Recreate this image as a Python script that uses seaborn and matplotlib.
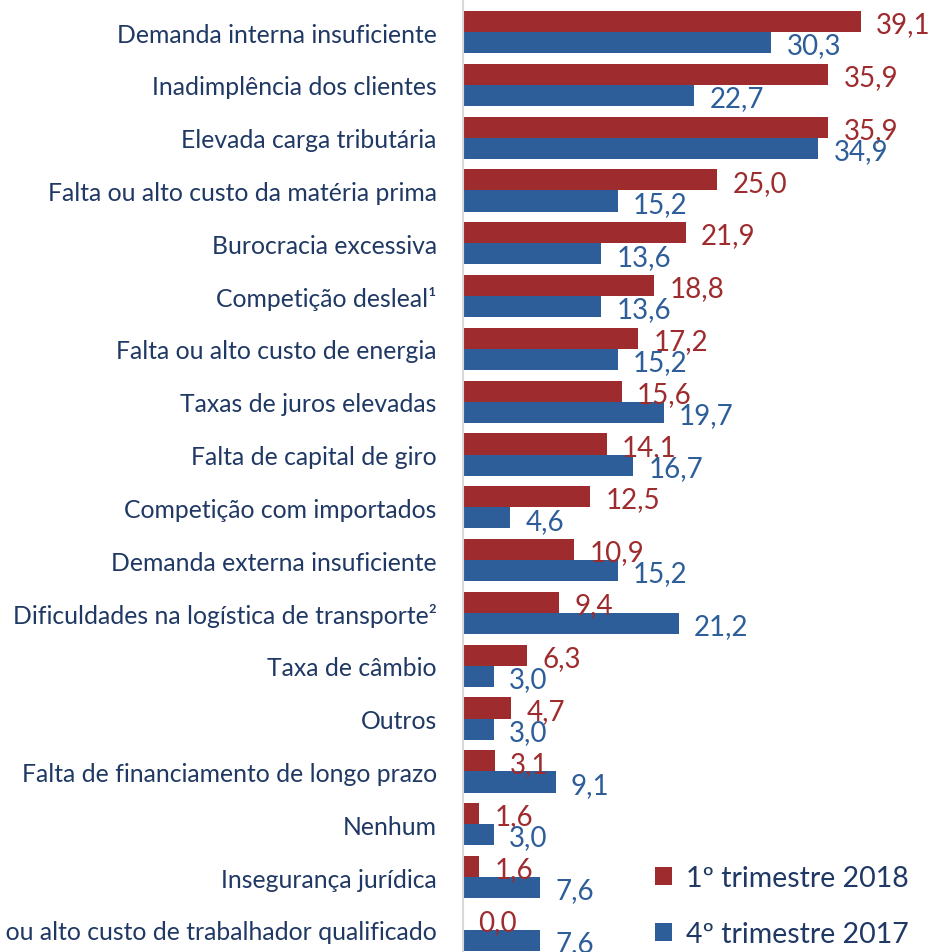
import pandas as pd
import matplotlib.pyplot as plt
import seaborn as sns

# Principais problemas enfrentados (% das empresas)
categorias = [
    "Demanda interna insuficiente",
    "Inadimplência dos clientes",
    "Elevada carga tributária",
    "Falta ou alto custo da matéria prima",
    "Burocracia excessiva",
    "Competição desleal¹",
    "Falta ou alto custo de energia",
    "Taxas de juros elevadas",
    "Falta de capital de giro",
    "Competição com importados",
    "Demanda externa insuficiente",
    "Dificuldades na logística de transporte²",
    "Taxa de câmbio",
    "Outros",
    "Falta de financiamento de longo prazo",
    "Nenhum",
    "Insegurança jurídica",
    "Falta ou alto custo de trabalhador qualificado",
]
tri_2018_1 = [39.1, 35.9, 35.9, 25.0, 21.9, 18.8, 17.2, 15.6, 14.1, 12.5,
              10.9, 9.4, 6.3, 4.7, 3.1, 1.6, 1.6, 0.0]
tri_2017_4 = [30.3, 22.7, 34.9, 15.2, 13.6, 13.6, 15.2, 19.7, 16.7, 4.6,
              15.2, 21.2, 3.0, 3.0, 9.1, 3.0, 7.6, 7.6]
series = ["1º trimestre 2018", "4º trimestre 2017"]

vermelho = "#9E2B2D"
azul = "#2E5E9A"
texto = "#1F3864"

df = pd.DataFrame({
    "categoria": categorias * 2,
    "valor": tri_2018_1 + tri_2017_4,
    "serie": [series[0]] * len(categorias) + [series[1]] * len(categorias),
})

sns.set_style("white")
plt.rcParams["font.family"] = ["Lato", "DejaVu Sans"]

fig = plt.figure(figsize=(9.3, 9.53), dpi=100)
ax = fig.add_axes([0.498, 0.0, 0.502, 1.0])

sns.barplot(data=df, y="categoria", x="valor", hue="serie", orient="h",
            palette=[vermelho, azul], saturation=1, width=0.8, linewidth=0,
            ax=ax)

# rótulos de valor
for cont, cor in zip(ax.containers, [vermelho, azul]):
    for barra in cont:
        v = barra.get_width()
        y = barra.get_y() + barra.get_height() / 2
        ax.annotate(f"{v:.1f}".replace(".", ","), (v, y), xytext=(11, -2),
                    textcoords="offset points", va="center", ha="left",
                    fontsize=20, color=cor)

ax.set_xlim(0, 45.9)
ax.set_ylim(17.42, -0.625)
ax.set_xlabel("")
ax.set_ylabel("")
ax.set_xticks([])
ax.tick_params(axis="y", length=0, pad=19, labelsize=17.8, labelcolor=texto)
for s in ["top", "right", "bottom"]:
    ax.spines[s].set_visible(False)
ax.spines["left"].set_color("#D9D9D9")
ax.spines["left"].set_linewidth(1.5)

leg = ax.legend(loc="lower right", bbox_to_anchor=(1.01, -0.022), frameon=False,
                fontsize=20.5, handlelength=0.6, handleheight=0.6,
                handletextpad=0.5, labelspacing=1.05, labelcolor=texto)

fig.savefig("out.png", dpi=100)
